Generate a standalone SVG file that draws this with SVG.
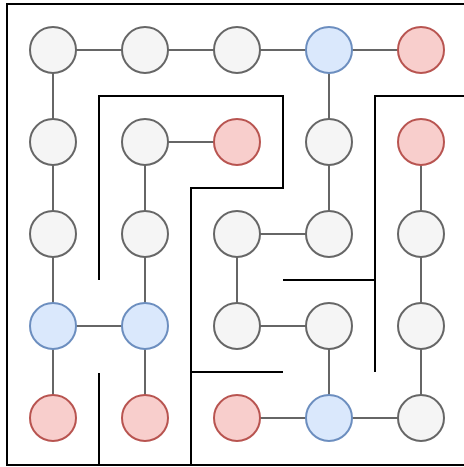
<svg xmlns="http://www.w3.org/2000/svg" width="464" height="467" viewBox="0 0 464 467">
<style>
.n{stroke-width:2}
.g{fill:#f5f5f5;stroke:#666666}
.b{fill:#dae8fc;stroke:#6c8ebf}
.r{fill:#f8cecc;stroke:#b85450}
.e line{stroke:#666666;stroke-width:2}
.w{fill:none;stroke:#000000;stroke-width:2}
</style>
<rect width="464" height="467" fill="#ffffff"/>
<g id="walls">
<path class="w" d="M466 4H7V465H466"/>
<path class="w" d="M99 280V96H283V188H191V465"/>
<path class="w" d="M191 372H283"/>
<path class="w" d="M99 373V465"/>
<path class="w" d="M466 96H375V372"/>
<path class="w" d="M283 280H375"/>
</g>
<g id="connectors" class="e">
<line x1="53" y1="50" x2="421" y2="50"/>
<line x1="53" y1="50" x2="53" y2="418"/>
<line x1="145" y1="142" x2="237" y2="142"/>
<line x1="145" y1="142" x2="145" y2="418"/>
<line x1="53" y1="326" x2="145" y2="326"/>
<line x1="329" y1="50" x2="329" y2="234"/>
<line x1="237" y1="234" x2="329" y2="234"/>
<line x1="237" y1="234" x2="237" y2="326"/>
<line x1="237" y1="326" x2="329" y2="326"/>
<line x1="329" y1="326" x2="329" y2="418"/>
<line x1="237" y1="418" x2="421" y2="418"/>
<line x1="421" y1="142" x2="421" y2="418"/>
</g>
<g id="n00"><circle class="n g" cx="53" cy="50" r="23"/></g>
<g id="n10"><circle class="n g" cx="145" cy="50" r="23"/></g>
<g id="n20"><circle class="n g" cx="237" cy="50" r="23"/></g>
<g id="n30"><circle class="n b" cx="329" cy="50" r="23"/></g>
<g id="n40"><circle class="n r" cx="421" cy="50" r="23"/></g>
<g id="n01"><circle class="n g" cx="53" cy="142" r="23"/></g>
<g id="n11"><circle class="n g" cx="145" cy="142" r="23"/></g>
<g id="n21"><circle class="n r" cx="237" cy="142" r="23"/></g>
<g id="n31"><circle class="n g" cx="329" cy="142" r="23"/></g>
<g id="n41"><circle class="n r" cx="421" cy="142" r="23"/></g>
<g id="n02"><circle class="n g" cx="53" cy="234" r="23"/></g>
<g id="n12"><circle class="n g" cx="145" cy="234" r="23"/></g>
<g id="n22"><circle class="n g" cx="237" cy="234" r="23"/></g>
<g id="n32"><circle class="n g" cx="329" cy="234" r="23"/></g>
<g id="n42"><circle class="n g" cx="421" cy="234" r="23"/></g>
<g id="n03"><circle class="n b" cx="53" cy="326" r="23"/></g>
<g id="n13"><circle class="n b" cx="145" cy="326" r="23"/></g>
<g id="n23"><circle class="n g" cx="237" cy="326" r="23"/></g>
<g id="n33"><circle class="n g" cx="329" cy="326" r="23"/></g>
<g id="n43"><circle class="n g" cx="421" cy="326" r="23"/></g>
<g id="n04"><circle class="n r" cx="53" cy="418" r="23"/></g>
<g id="n14"><circle class="n r" cx="145" cy="418" r="23"/></g>
<g id="n24"><circle class="n r" cx="237" cy="418" r="23"/></g>
<g id="n34"><circle class="n b" cx="329" cy="418" r="23"/></g>
<g id="n44"><circle class="n g" cx="421" cy="418" r="23"/></g>
</svg>
